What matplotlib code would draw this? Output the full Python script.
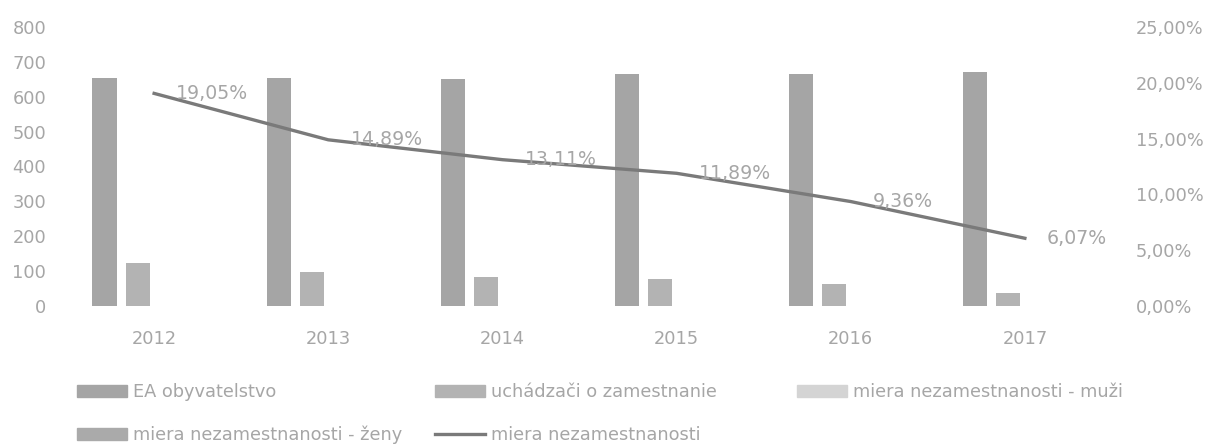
import matplotlib.pyplot as plt
import numpy as np
from matplotlib.patches import Patch
from matplotlib.lines import Line2D

# data
roky = ['2012', '2013', '2014', '2015', '2016', '2017']
ea_obyvatelstvo = [655, 655, 650, 665, 665, 670]
uchadzaci = [123, 97, 82, 78, 62, 37]
miera_muzi = [0.18, 0.14, 0.12, 0.11, 0.09, 0.06]   # podiely -> na lavej osi neviditelne
miera_zeny = [0.20, 0.16, 0.14, 0.13, 0.10, 0.06]
miera = [19.05, 14.89, 13.11, 11.89, 9.36, 6.07]
miera_txt = ['19,05%', '14,89%', '13,11%', '11,89%', '9,36%', '6,07%']

#%% styl
plt.rcParams['font.family'] = ['DejaVu Sans']
txt_col = '#a6a6a6'
c_ea = '#a5a5a5'
c_uch = '#b3b3b3'
c_muzi = '#d4d4d4'
c_zeny = '#aaaaaa'
c_line = '#7a7a7a'
fs = 12.8

fig = plt.figure(figsize=(12.08, 4.46), dpi=100)
ax = fig.add_axes([0.0555, 0.3139, 0.865, 0.6256])
ax2 = ax.twinx()

x = np.arange(len(roky))
w = 0.138
s = 0.19
ax.bar(x - 1.5*s, ea_obyvatelstvo, w, color=c_ea)
ax.bar(x - 0.5*s, uchadzaci, w, color=c_uch)
ax.bar(x + 0.5*s, miera_muzi, w, color=c_muzi)
ax.bar(x + 1.5*s, miera_zeny, w, color=c_zeny)

ax2.plot(x, miera, color=c_line, lw=2.4)
for xi, yi, t in zip(x, miera, miera_txt):
    ax2.annotate(t, (xi, yi), xytext=(16, 0), textcoords='offset points',
                 ha='left', va='center', color=txt_col, fontsize=fs + 0.8)

ax.set_xlim(-0.5, 5.5)
ax.set_ylim(0, 800)
ax.set_yticks(range(0, 801, 100))
ax2.set_ylim(0, 25)
ax2.set_yticks(range(0, 26, 5))
ax2.set_yticklabels(['%d,00%%' % v for v in range(0, 26, 5)])
ax.set_xticks(x)
ax.set_xticklabels(roky)

for a in (ax, ax2):
    for sp in a.spines.values():
        sp.set_visible(False)
    a.tick_params(length=0, colors=txt_col, labelsize=fs)
ax.tick_params(axis='y', pad=15)
ax.tick_params(axis='x', pad=17)
ax2.tick_params(axis='y', pad=17)

# legenda - kazda polozka zvlast, ako v Exceli
polozky = [
    (Patch(color=c_ea), 'EA obyvatelstvo', 77, 392),
    (Patch(color=c_uch), 'uchádzači o zamestnanie', 435, 392),
    (Patch(color=c_muzi), 'miera nezamestnanosti - muži', 797, 392),
    (Patch(color=c_zeny), 'miera nezamestnanosti - ženy', 77, 435),
    (Line2D([], [], color=c_line, lw=2.4), 'miera nezamestnanosti', 435, 435),
]
for h, l, px, py in polozky:
    fig.legend([h], [l], loc='center left', bbox_to_anchor=(px / 1208, 1 - py / 446),
               frameon=False, handlelength=2.8, handleheight=0.65, handletextpad=0.35,
               fontsize=fs, labelcolor=txt_col, borderaxespad=0, borderpad=0)

plt.savefig('out.png', dpi=100)
